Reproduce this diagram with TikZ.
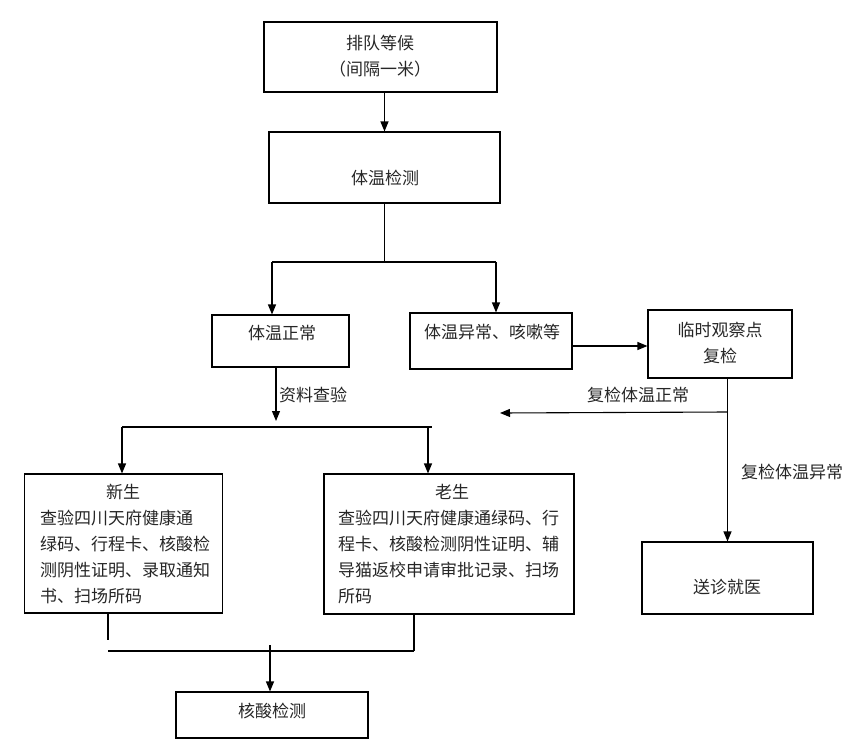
\documentclass[tikz,border=0pt]{standalone}
\usepackage{fontspec}
\newfontfamily\cjk{Noto Sans CJK SC}
\usetikzlibrary{arrows.meta}

\begin{document}
\begin{tikzpicture}[
    x=1pt, y=-1pt,
    box/.style={rectangle, draw=black, line width=1.1pt, inner sep=0pt},
    txt/.style={font=\cjk\fontsize{17}{26}\selectfont, inner sep=0pt, text=black!85},
    line/.style={line width=1.1pt, black},
    arr/.style={line, -{Triangle[length=10pt, width=8pt]}}
]
    \useasboundingbox (0,0) rectangle (863,744);

    % --- Boxes ---
    \node[box, minimum width=233, minimum height=70]  (queue)    at (380.5,57)   {};
    \node[box, minimum width=231, minimum height=71]  (temp)     at (384.5,167.5) {};
    \node[box, minimum width=137, minimum height=52]  (normal)   at (280.5,341)  {};
    \node[box, minimum width=162, minimum height=56]  (abnormal) at (491,341)    {};
    \node[box, minimum width=144, minimum height=68]  (observe)  at (720,344)    {};
    \node[box, minimum width=171, minimum height=72]  (hospital) at (727.5,578)  {};
    \node[box, minimum width=198, minimum height=139] (newbox)   at (123.5,543.5) {};
    \node[box, minimum width=250, minimum height=140] (oldbox)   at (449,544)    {};
    \node[box, minimum width=192, minimum height=46]  (nat)      at (272,715)    {};

    % --- Texts ---
    \node[txt, align=center] (queuetxt)   at (380,56)  {排队等候\\（间隔一米）};
    \node[txt]               (temptxt)    at (385,178) {体温检测};
    \node[txt]               (normaltxt)  at (282,333) {体温正常};
    \node[txt]               (abnormaltxt) at (492,332) {体温异常、咳嗽等};
    \node[txt, align=center] (observetxt) at (720,343) {临时观察点\\复检};
    \node[txt]               (hospitaltxt) at (727,587) {送诊就医};
    \node[txt]               (nattxt)     at (272,711) {核酸检测};
    \node[txt]               (newtitle)   at (123,492) {新生};
    \node[txt, align=left, anchor=north west] (newtxt) at (40,510)
        {查验四川天府健康通\\绿码、行程卡、核酸检\\测阴性证明、录取通知\\书、扫场所码};
    \node[txt]               (oldtitle)   at (452,492) {老生};
    \node[txt, align=left, anchor=north west] (oldtxt) at (338,510)
        {查验四川天府健康通绿码、行\\程卡、核酸检测阴性证明、辅\\导猫返校申请审批记录、扫场\\所码};

    % --- Labels on connectors ---
    \node[txt] (checklbl)    at (313,395) {资料查验};
    \node[txt] (normallbl)   at (638,395) {复检体温正常};
    \node[txt] (abnormallbl) at (792,472) {复检体温异常};

    % --- Junction points ---
    \coordinate (split)  at (384.5,262);
    \coordinate (splitL) at (272,262);
    \coordinate (splitR) at (496,262);
    \coordinate (check)  at (276,421);
    \coordinate (stuL)   at (122,427);
    \coordinate (stuR)   at (432,427);
    \coordinate (stuOld) at (428,427);
    \coordinate (back)    at (727.5,412);
    \coordinate (backEnd) at (500,413);
    \coordinate (newDrop) at (108,640);
    \coordinate (mergeL)  at (108,651);
    \coordinate (mergeR)  at (414,651);
    \coordinate (mergeTop) at (270,645);

    % --- Connectors ---
    \draw[arr]  (queue.south -| temp.north) -- (temp.north);
    \draw[line] (temp.south) -- (split);
    \draw[line] (splitL) -- (splitR);
    \draw[arr]  (splitL) -- (splitL |- normal.north);
    \draw[arr]  (splitR) -- (splitR |- abnormal.north);
    \draw[arr]  ([yshift=-5pt]abnormal.east) -- ([yshift=-5pt]abnormal.east -| observe.west);
    \draw[arr]  (observe.south -| hospital.north) -- (hospital.north);
    \draw[arr]  (back) -- (backEnd);
    \draw[arr]  (normal.south -| check) -- (check);
    \draw[line] (stuL) -- (stuR);
    \draw[arr]  (stuL) -- (stuL |- newbox.north);
    \draw[arr]  (stuOld) -- (stuOld |- oldbox.north);
    \draw[line] (newbox.south -| newDrop) -- (newDrop);
    \draw[line] (oldbox.south -| mergeR) -- (mergeR);
    \draw[line] (mergeL) -- (mergeR);
    \draw[arr]  (mergeTop) -- (mergeTop |- nat.north);

\end{tikzpicture}
\end{document}
